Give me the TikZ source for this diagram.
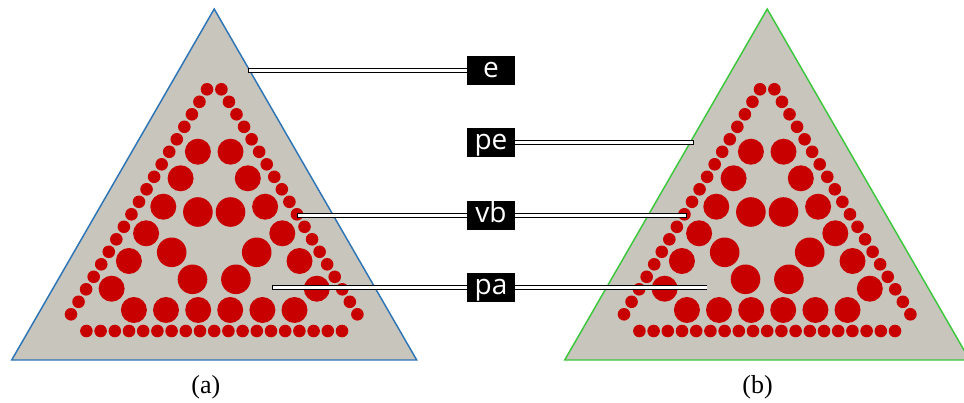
\documentclass[tikz,border=0pt]{standalone}
\usepackage{fontspec}
\setmainfont{Liberation Serif}
\newfontfamily\tagfont{Open Sans}
\usetikzlibrary{backgrounds}
\definecolor{plgray}{HTML}{C8C5BD}
\definecolor{plred}{HTML}{C80000}
\definecolor{plblue}{HTML}{2E75B6}
\definecolor{plgreen}{HTML}{3CC83C}
\tikzset{
  tagbox/.style={fill=black, text=white, font=\tagfont\fontsize{21}{21}\selectfont,
    minimum width=36pt, text height=15pt, text depth=4.6pt, inner xsep=3pt, inner ysep=1.2pt},
  leader/.style={draw=black, line width=0.7pt, double=white, double distance=2.3pt, line cap=rect},
  caption/.style={font=\fontsize{19.5}{21}\selectfont}
}

\begin{document}
\begin{tikzpicture}[x=0.75pt, y=-0.75pt]
  \useasboundingbox (0,0) rectangle (964,403);
  \begin{scope}[on background layer]
    \foreach \cx/\col in {214.2/plblue, 767.2/plgreen} {
      % plate
      \filldraw[fill=plgray, draw=\col, line width=1.1pt, line join=miter]
        (\cx,9) -- (\cx+202.5,360) -- (\cx-202.5,360) -- cycle;
      % small circles on the three sides
      \foreach \k in {0,...,18} {
        \fill[plred] (\cx-143.2+\k*7.556,314.3-\k*12.5) circle (6.3);
        \fill[plred] (\cx+143.2-\k*7.556,314.3-\k*12.5) circle (6.3);
        \fill[plred] (\cx-127.8+\k*14.2,331) circle (6.3);
      }
      % outer ring of large circles
      \foreach \dx/\y in {16.3/151.7, 33.6/178.3, 50.9/206.7, 68.1/233.3, 85.3/261,
                          102.6/288.7, 16/310, 48.2/310, 80.3/310} {
        \fill[plred] (\cx-\dx,\y) circle (13);
        \fill[plred] (\cx+\dx,\y) circle (13);
      }
      % inner ring of large circles
      \foreach \dx/\y in {16.3/212, 42.5/252.3, 21.7/279.3} {
        \fill[plred] (\cx-\dx,\y) circle (14.8);
        \fill[plred] (\cx+\dx,\y) circle (14.8);
      }
    }
  \end{scope}

  % labels
  \node[tagbox] (e)  at (491,70.5) {e};
  \node[tagbox] (pe) at (491,142.5) {pe};
  \node[tagbox] (vb) at (491,215.5) {vb};
  \node[tagbox] (pa) at (491,287.5) {pa};

  \coordinate (eL)  at (250.5,70.5);
  \coordinate (peR) at (691.5,142.5);
  \coordinate (vbL) at (299.3,215.5);
  \coordinate (vbR) at (684.3,215.5);
  \coordinate (paL) at (274.3,287.5);
  \coordinate (paR) at (705,287.5);

  % leader lines
  \begin{scope}[on background layer]
    \draw[leader] (eL) -- (e.center);
    \draw[leader] (peR) -- (pe.center);
    \draw[leader] (vbL) -- (vb.center) -- (vbR);
    \draw[leader] (paL) -- (pa.center) -- (paR);
  \end{scope}

  % captions
  \node[caption] (capa) at (205.8,387) {(a)};
  \node[caption] (capb) at (757.5,387) {(b)};
\end{tikzpicture}
\end{document}
